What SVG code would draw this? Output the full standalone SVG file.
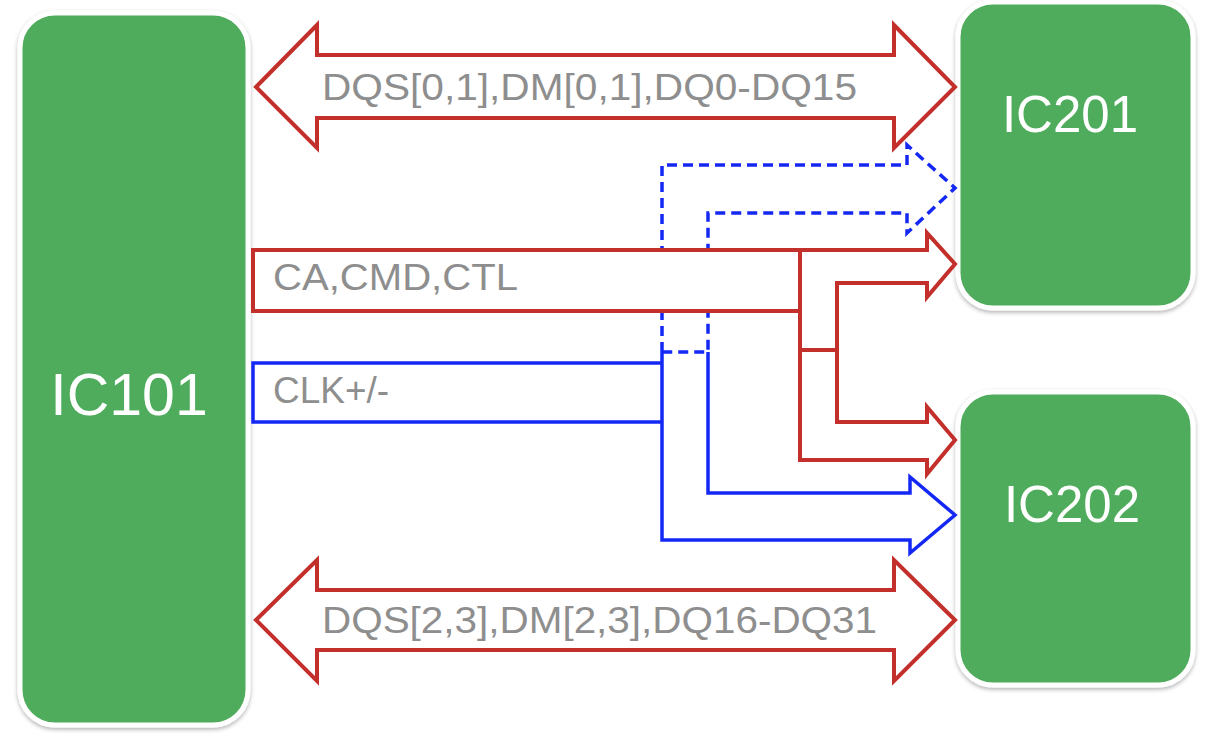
<svg xmlns="http://www.w3.org/2000/svg" width="1208" height="742" viewBox="0 0 1208 742">
  <defs>
    <filter id="sh" x="-10%" y="-10%" width="120%" height="120%">
      <feDropShadow dx="0" dy="2" stdDeviation="2" flood-color="#000" flood-opacity="0.3"/>
    </filter>
  </defs>
  <style>
    .node { fill: #4FAC5B; stroke: #ffffff; stroke-width: 5; filter: url(#sh); }
    .nlabel { font-family: "Liberation Sans", Arial, sans-serif; fill: #ffffff; text-anchor: middle; }
    .red { fill: none; stroke: #C3302B; stroke-width: 4; stroke-linejoin: miter; }
    .redf { fill: #ffffff; stroke: #C3302B; stroke-width: 4; }
    .blue { fill: none; stroke: #1428F5; stroke-width: 3.5; }
    .dash { fill: none; stroke: #1428F5; stroke-width: 3.5; stroke-dasharray: 10 6; }
    .lbl { font-family: "Liberation Sans", Arial, sans-serif; font-size: 37px; fill: #8E8E8E; }
  </style>
  <rect width="1208" height="742" fill="#ffffff"/>

  <g id="IC101">
    <rect class="node" x="20" y="13" width="228" height="712" rx="35"/>
    <text class="nlabel" x="129" y="415" font-size="59">IC101</text>
  </g>
  <g id="IC201">
    <rect class="node" x="958" y="2" width="235" height="306" rx="35"/>
    <text class="nlabel" x="1070" y="132" font-size="51">IC201</text>
  </g>
  <g id="IC202">
    <rect class="node" x="958" y="392" width="235" height="293" rx="35"/>
    <text class="nlabel" x="1072" y="522" font-size="51">IC202</text>
  </g>

  <g id="connectors">
    <!-- top bidirectional bus -->
    <path class="red" d="M256,87 L317,25 V55 H894 V25 L955,87 L894,148 V118 H317 V148 Z"/>
    <text class="lbl" x="322" y="100" textLength="535" lengthAdjust="spacingAndGlyphs">DQS[0,1],DM[0,1],DQ0-DQ15</text>

    <!-- bottom bidirectional bus -->
    <path class="red" d="M256,620 L317,560 V590 H894 V560 L955,620 L894,681 V650 H317 V681 Z"/>
    <text class="lbl" x="322" y="633" textLength="555" lengthAdjust="spacingAndGlyphs">DQS[2,3],DM[2,3],DQ16-DQ31</text>

    <!-- dashed blue clock to IC201 -->
    <path class="dash" d="M662,352 V165 H907 V145 L955,188 L907,233 V213 H708 V352 Z"/>

    <!-- solid blue clock to IC202 -->
    <path class="blue" d="M708,352 V493 H910 V477 L955,515 L910,553 V540 H662 V352"/>
    <path class="blue" d="M662,363 H253 V422 H662"/>
    <text class="lbl" x="273" y="403">CLK+/-</text>

    <!-- red command/address bus -->
    <path class="redf" d="M253,250 H927 V233 L955,264 L927,297 V283 H837 V422 H927 V407 L955,440 L927,474 V460 H800 V311 H253 Z"/>
    <path class="red" d="M800,250 V311 M800,350 H837"/>
    <text class="lbl" x="273" y="290" textLength="245" lengthAdjust="spacingAndGlyphs">CA,CMD,CTL</text>
  </g>
</svg>
